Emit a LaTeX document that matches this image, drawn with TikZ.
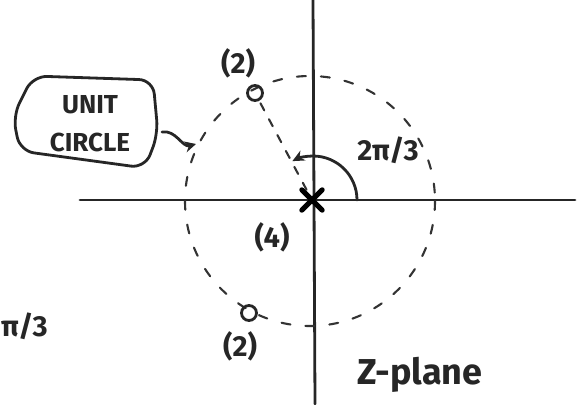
\documentclass[tikz,border=0pt]{standalone}
\usepackage{fontspec}
\setmainfont{Fira Sans}
\usetikzlibrary{arrows.meta}
\begin{document}
\begin{tikzpicture}[x=1pt,y=-1pt,
  ink/.style={line width=2.8pt,line cap=round,line join=round,black!85},
  dashink/.style={line width=2.1pt,black!80,dash pattern=on 9pt off 15pt,line cap=round},
  lbl/.style={font=\fontsize{29}{31}\selectfont\bfseries,inner sep=0pt,black!85},
  zeromark/.style={circle,draw,line width=2.8pt,minimum size=15pt,inner sep=0pt,black!85}]
\useasboundingbox (0,0) rectangle (580,404);
% axes
\coordinate (xl) at (80,200);
\coordinate (xr) at (575,200);
\coordinate (yt) at (313,0);
\coordinate (yb) at (315,404);
\draw[ink] (xl) -- (xr);
\draw[ink] (yt) -- (yb);
% unit circle
\coordinate (o) at (310,201);
\draw[dashink] (o) circle[radius=125];
% zeros and pole
\node[zeromark] (z1) at (255,93) {};
\node[zeromark] (z2) at (249,313) {};
\node[inner sep=0pt,minimum size=20pt] (p) at (312,200) {};
\draw[line width=5pt,line cap=round,black] (p.north west) -- (p.south east) (p.north east) -- (p.south west);
\draw[dashink,dash pattern=on 8pt off 10pt] (p) -- (z1);
% labels
\node[lbl] (l1) at (238,63) {(2)};
\node[lbl] (l2) at (240,346) {(2)};
\node[lbl] (l4) at (272,237) {(4)};
% angle
\coordinate (a0) at (357,200);
\draw[ink,-{Stealth[length=12pt,width=11pt]}] (a0) arc[start angle=0,end angle=-118,radius=44];
\node[lbl] (ang) at (388,150) {2π/3};
% cloud
\draw[ink,rounded corners=14pt] (33,76) -- (153,80) -- (158,134) -- (145,168) -- (20,151) -- (13,116) -- cycle;
\node[lbl,align=center,font=\fontsize{26}{38}\selectfont\bfseries] (uc) at (90,124) {UNIT\\CIRCLE};
\coordinate (cl) at (162,132);
\coordinate (ct) at (196,144);
\draw[ink,-{Stealth[length=11pt,width=11pt]}] (cl) to[out=10,in=195] (ct);
% left partial label
\node[lbl,anchor=west] (pi3) at (1,326) {π/3};
% z-plane
\node[lbl,font=\fontsize{36}{38}\selectfont\bfseries] (zp) at (420,375) {Z-plane};
\end{tikzpicture}
\end{document}
